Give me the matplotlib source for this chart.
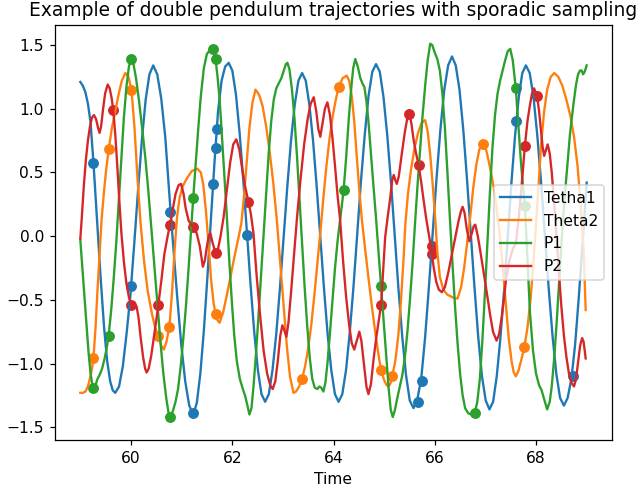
import numpy as np
import matplotlib
matplotlib.use("Agg")
from matplotlib import pyplot as plt

# traced trajectories, (time, value)
tetha1 = [(59.00, 1.21), (59.05, 1.18), (59.10, 1.13), (59.15, 1.04), (59.20, 0.90), (59.26, 0.575),
          (59.33, 0.13), (59.40, -0.32), (59.47, -0.72), (59.53, -0.98), (59.59, -1.14), (59.64, -1.21),
          (59.69, -1.23), (59.765, -1.18), (59.84, -1.02), (59.915, -0.76), (59.99, -0.46), (60.065, -0.06),
          (60.14, 0.36), (60.215, 0.75), (60.29, 1.07), (60.365, 1.27), (60.44, 1.34), (60.519, 1.27),
          (60.598, 1.08), (60.677, 0.78), (60.756, 0.34), (60.835, -0.08), (60.914, -0.48), (60.993, -0.85),
          (61.072, -1.14), (61.151, -1.33), (61.23, -1.40), (61.30, -1.31), (61.37, -1.08), (61.44, -0.74),
          (61.51, -0.32), (61.58, 0.14), (61.65, 0.58), (61.72, 0.98), (61.79, 1.22), (61.86, 1.33),
          (61.93, 1.36), (62.002, 1.30), (62.074, 1.11), (62.146, 0.81), (62.218, 0.44), (62.29, 0.03),
          (62.362, -0.38), (62.434, -0.75), (62.506, -1.05), (62.578, -1.24), (62.65, -1.30), (62.723, -1.24),
          (62.796, -1.05), (62.869, -0.77), (62.942, -0.41), (63.015, -0.01), (63.088, 0.39), (63.161, 0.75),
          (63.234, 1.03), (63.307, 1.22), (63.38, 1.28), (63.452, 1.22), (63.524, 1.03), (63.596, 0.75),
          (63.668, 0.39), (63.74, -0.01), (63.812, -0.41), (63.884, -0.77), (63.956, -1.05), (64.028, -1.24),
          (64.10, -1.30), (64.174, -1.24), (64.248, -1.05), (64.322, -0.75), (64.396, -0.39), (64.47, 0.025),
          (64.544, 0.44), (64.618, 0.80), (64.692, 1.10), (64.766, 1.29), (64.84, 1.35), (64.914, 1.29),
          (64.988, 1.09), (65.062, 0.79), (65.136, 0.42), (65.21, 0.0), (65.284, -0.42), (65.358, -0.79),
          (65.432, -1.09), (65.506, -1.29), (65.58, -1.35), (65.656, -1.28), (65.732, -1.12), (65.808, -0.80),
          (65.884, -0.40), (65.96, 0.03), (66.036, 0.46), (66.112, 0.84), (66.188, 1.15), (66.264, 1.34),
          (66.34, 1.41), (66.414, 1.34), (66.488, 1.15), (66.562, 0.84), (66.636, 0.45), (66.71, 0.025),
          (66.784, -0.40), (66.858, -0.79), (66.932, -1.10), (67.006, -1.29), (67.08, -1.36), (67.152, -1.30),
          (67.224, -1.10), (67.296, -0.80), (67.368, -0.43), (67.44, -0.01), (67.512, 0.41), (67.584, 0.78),
          (67.656, 1.08), (67.728, 1.28), (67.80, 1.34), (67.875, 1.28), (67.95, 1.09), (68.025, 0.79),
          (68.10, 0.42), (68.175, 0.005), (68.25, -0.41), (68.325, -0.78), (68.40, -1.08), (68.475, -1.27),
          (68.55, -1.33), (68.624, -1.27), (68.698, -1.12), (68.772, -0.85), (68.846, -0.47), (68.92, -0.05),
          (69.00, 0.42)]

theta2 = [(59.00, -1.23), (59.05, -1.23), (59.10, -1.22), (59.15, -1.18), (59.20, -1.10), (59.23, -1.04),
          (59.26, -0.955), (59.30, -0.72), (59.34, -0.42), (59.38, -0.14), (59.42, 0.13), (59.47, 0.36),
          (59.51, 0.52), (59.56, 0.68), (59.62, 0.84), (59.69, 0.98), (59.76, 1.12), (59.82, 1.22),
          (59.89, 1.28), (59.95, 1.25), (60.01, 1.15), (60.07, 0.85), (60.13, 0.45), (60.19, 0.10),
          (60.26, -0.20), (60.33, -0.43), (60.42, -0.62), (60.48, -0.72), (60.54, -0.78), (60.60, -0.86),
          (60.65, -0.89), (60.70, -0.83), (60.76, -0.71), (60.81, -0.45), (60.86, -0.12), (60.91, 0.15),
          (60.96, 0.30), (61.02, 0.39), (61.10, 0.45), (61.20, 0.51), (61.31, 0.53), (61.38, 0.50),
          (61.43, 0.40), (61.48, 0.20), (61.53, -0.05), (61.58, -0.33), (61.63, -0.52), (61.67, -0.61),
          (61.71, -0.66), (61.75, -0.68), (61.82, -0.60), (61.90, -0.45), (61.98, -0.29), (62.06, -0.13),
          (62.13, 0.00), (62.18, 0.10), (62.23, 0.30), (62.28, 0.55), (62.34, 0.85), (62.40, 1.05),
          (62.46, 1.15), (62.53, 1.11), (62.60, 1.02), (62.67, 0.86), (62.74, 0.66), (62.81, 0.42),
          (62.88, 0.13), (62.95, -0.22), (63.02, -0.57), (63.08, -0.87), (63.14, -1.10), (63.21, -1.23),
          (63.26, -1.22), (63.32, -1.18), (63.38, -1.12), (63.44, -1.02), (63.50, -0.88), (63.56, -0.70),
          (63.62, -0.47), (63.68, -0.22), (63.74, 0.03), (63.80, 0.30), (63.86, 0.55), (63.92, 0.76),
          (63.98, 0.93), (64.04, 1.06), (64.10, 1.17), (64.18, 1.24), (64.26, 1.26), (64.31, 1.22),
          (64.36, 1.10), (64.41, 0.90), (64.46, 0.62), (64.51, 0.36), (64.56, 0.13), (64.63, -0.12),
          (64.70, -0.36), (64.77, -0.59), (64.84, -0.80), (64.90, -0.96), (64.94, -1.05), (65.00, -1.13),
          (65.05, -1.17), (65.09, -1.18), (65.13, -1.15), (65.16, -1.10), (65.22, -0.98), (65.28, -0.78),
          (65.33, -0.52), (65.38, -0.20), (65.42, 0.10), (65.47, 0.33), (65.53, 0.52), (65.60, 0.69),
          (65.67, 0.81), (65.74, 0.89), (65.81, 0.91), (65.86, 0.82), (65.91, 0.64), (65.96, 0.40),
          (66.01, 0.13), (66.05, -0.12), (66.10, -0.32), (66.17, -0.42), (66.25, -0.46), (66.35, -0.48),
          (66.45, -0.49), (66.52, -0.40), (66.58, -0.25), (66.64, -0.05), (66.70, 0.15), (66.76, 0.38),
          (66.82, 0.56), (66.88, 0.68), (66.95, 0.72), (67.02, 0.67), (67.09, 0.54), (67.16, 0.39),
          (67.22, 0.22), (67.28, 0.02), (67.34, -0.23), (67.40, -0.52), (67.46, -0.80), (67.52, -0.99),
          (67.56, -1.07), (67.60, -1.10), (67.65, -1.06), (67.71, -0.97), (67.77, -0.87), (67.83, -0.72),
          (67.89, -0.50), (67.95, -0.20), (68.00, 0.10), (68.05, 0.40), (68.10, 0.72), (68.16, 0.98),
          (68.22, 1.15), (68.29, 1.25), (68.36, 1.28), (68.44, 1.25), (68.52, 1.18), (68.60, 1.07),
          (68.68, 0.94), (68.75, 0.78), (68.82, 0.55), (68.88, 0.25), (68.94, -0.10), (68.98, -0.58)]

p1 = [(59.00, -0.03), (59.04, -0.25), (59.08, -0.47), (59.12, -0.70), (59.16, -0.90), (59.20, -1.07),
      (59.23, -1.15), (59.26, -1.19), (59.30, -1.17), (59.34, -1.12), (59.38, -1.09), (59.43, -1.04),
      (59.48, -0.96), (59.52, -0.88), (59.56, -0.78), (59.61, -0.58), (59.66, -0.33), (59.71, -0.05),
      (59.76, 0.28), (59.81, 0.62), (59.86, 0.93), (59.91, 1.17), (59.96, 1.33), (60.00, 1.39),
      (60.05, 1.35), (60.10, 1.24), (60.16, 1.06), (60.22, 0.85), (60.28, 0.63), (60.34, 0.37),
      (60.40, 0.08), (60.46, -0.22), (60.52, -0.52), (60.58, -0.82), (60.64, -1.08), (60.70, -1.28),
      (60.74, -1.38), (60.78, -1.42), (60.83, -1.37), (60.88, -1.30), (60.93, -1.20), (60.98, -1.03),
      (61.03, -0.82), (61.08, -0.58), (61.13, -0.30), (61.18, 0.00), (61.23, 0.30), (61.28, 0.58),
      (61.33, 0.85), (61.38, 1.10), (61.44, 1.32), (61.50, 1.43), (61.56, 1.46), (61.62, 1.47),
      (61.67, 1.39), (61.71, 1.25), (61.75, 1.08), (61.79, 0.83), (61.84, 0.50), (61.89, 0.18),
      (61.94, -0.18), (61.99, -0.50), (62.04, -0.78), (62.09, -0.98), (62.15, -1.12), (62.21, -1.20),
      (62.26, -1.26), (62.30, -1.33), (62.34, -1.40), (62.38, -1.35), (62.42, -1.18), (62.47, -0.92),
      (62.52, -0.62), (62.57, -0.30), (62.62, 0.02), (62.67, 0.35), (62.72, 0.65), (62.77, 0.90),
      (62.82, 1.07), (62.87, 1.16), (62.92, 1.20), (62.97, 1.24), (63.02, 1.30), (63.06, 1.35),
      (63.09, 1.36), (63.13, 1.31), (63.18, 1.15), (63.23, 0.92), (63.28, 0.62), (63.33, 0.28),
      (63.38, -0.07), (63.43, -0.40), (63.48, -0.70), (63.53, -0.95), (63.58, -1.12), (63.63, -1.19),
      (63.68, -1.20), (63.72, -1.18), (63.76, -1.19), (63.80, -1.22), (63.84, -1.15), (63.88, -1.00),
      (63.93, -0.76), (63.98, -0.50), (64.03, -0.25), (64.08, -0.04), (64.14, 0.16), (64.20, 0.36),
      (64.25, 0.62), (64.30, 0.91), (64.35, 1.16), (64.39, 1.32), (64.43, 1.39), (64.48, 1.33),
      (64.53, 1.24), (64.57, 1.20), (64.61, 1.17), (64.65, 1.06), (64.69, 0.90), (64.74, 0.64),
      (64.79, 0.39), (64.84, 0.14), (64.89, -0.13), (64.94, -0.39), (64.99, -0.68), (65.04, -0.95),
      (65.09, -1.20), (65.13, -1.36), (65.17, -1.42), (65.21, -1.37), (65.26, -1.27), (65.31, -1.18),
      (65.36, -1.09), (65.41, -0.95), (65.46, -0.75), (65.51, -0.50), (65.56, -0.22), (65.61, 0.10),
      (65.66, 0.40), (65.71, 0.68), (65.76, 0.95), (65.81, 1.18), (65.86, 1.38), (65.91, 1.51),
      (65.95, 1.50), (66.00, 1.44), (66.05, 1.39), (66.10, 1.30), (66.15, 1.12), (66.20, 0.85),
      (66.25, 0.50), (66.30, 0.13), (66.35, -0.22), (66.40, -0.55), (66.45, -0.84), (66.50, -1.08),
      (66.55, -1.25), (66.60, -1.35), (66.66, -1.39), (66.72, -1.40), (66.79, -1.39), (66.84, -1.30),
      (66.89, -1.12), (66.94, -0.82), (66.99, -0.45), (67.04, -0.05), (67.09, 0.35), (67.14, 0.70),
      (67.19, 0.95), (67.24, 1.12), (67.29, 1.22), (67.34, 1.30), (67.39, 1.38), (67.44, 1.45),
      (67.49, 1.47), (67.54, 1.38), (67.60, 1.16), (67.65, 0.88), (67.70, 0.59), (67.74, 0.40),
      (67.78, 0.24), (67.83, -0.18), (67.88, -0.60), (67.94, -0.90), (68.00, -1.08), (68.06, -1.17),
      (68.11, -1.21), (68.16, -1.28), (68.22, -1.36), (68.27, -1.30), (68.31, -1.18), (68.36, -0.95),
      (68.41, -0.66), (68.46, -0.34), (68.51, -0.01), (68.56, 0.28), (68.61, 0.52), (68.67, 0.80),
      (68.74, 1.04), (68.79, 1.19), (68.83, 1.27), (68.87, 1.30), (68.90, 1.30), (68.93, 1.27),
      (68.96, 1.29), (69.00, 1.34)]

p2 = [(59.00, -0.02), (59.03, 0.15), (59.07, 0.40), (59.11, 0.60), (59.15, 0.75), (59.19, 0.86),
      (59.23, 0.93), (59.27, 0.95), (59.31, 0.92), (59.35, 0.85), (59.38, 0.81), (59.41, 0.86),
      (59.45, 1.00), (59.49, 1.12), (59.54, 1.19), (59.58, 1.16), (59.62, 1.08), (59.65, 0.99),
      (59.69, 0.80), (59.73, 0.55), (59.77, 0.28), (59.81, 0.03), (59.86, -0.20), (59.91, -0.37),
      (59.96, -0.48), (60.01, -0.54), (60.06, -0.53), (60.11, -0.55), (60.15, -0.64), (60.19, -0.79),
      (60.24, -0.95), (60.28, -1.04), (60.31, -1.07), (60.35, -1.04), (60.40, -0.94), (60.45, -0.80),
      (60.50, -0.66), (60.54, -0.54), (60.60, -0.35), (60.66, -0.14), (60.72, -0.01), (60.77, 0.09),
      (60.83, 0.22), (60.88, 0.33), (60.94, 0.40), (60.99, 0.41), (61.04, 0.33), (61.08, 0.22),
      (61.14, 0.12), (61.23, 0.07), (61.30, 0.02), (61.36, -0.08), (61.42, -0.24), (61.46, -0.19),
      (61.50, -0.08), (61.54, 0.01), (61.57, 0.02), (61.61, -0.05), (61.67, -0.13), (61.72, -0.10),
      (61.77, 0.00), (61.83, 0.15), (61.90, 0.38), (61.96, 0.58), (62.02, 0.72), (62.08, 0.76),
      (62.14, 0.68), (62.20, 0.52), (62.26, 0.38), (62.32, 0.27), (62.37, 0.17), (62.42, 0.02),
      (62.48, -0.30), (62.55, -0.62), (62.62, -0.90), (62.69, -1.08), (62.75, -1.17), (62.80, -1.20),
      (62.85, -1.14), (62.90, -0.98), (62.95, -0.78), (62.99, -0.70), (63.03, -0.74), (63.07, -0.79),
      (63.11, -0.68), (63.16, -0.45), (63.22, -0.15), (63.28, 0.15), (63.35, 0.45), (63.42, 0.72),
      (63.49, 0.92), (63.55, 1.04), (63.61, 1.09), (63.66, 0.98), (63.70, 0.84), (63.74, 0.78),
      (63.78, 0.88), (63.83, 1.00), (63.88, 1.05), (63.93, 0.95), (63.98, 0.77), (64.03, 0.55),
      (64.08, 0.32), (64.13, 0.13), (64.19, -0.20), (64.25, -0.48), (64.31, -0.70), (64.36, -0.84),
      (64.41, -0.89), (64.46, -0.82), (64.51, -0.75), (64.55, -0.82), (64.60, -1.00), (64.65, -1.18),
      (64.69, -1.24), (64.74, -1.16), (64.79, -0.97), (64.85, -0.78), (64.94, -0.54), (64.98, -0.28),
      (65.02, -0.01), (65.07, 0.15), (65.12, 0.30), (65.16, 0.44), (65.19, 0.48), (65.22, 0.44),
      (65.25, 0.41), (65.29, 0.47), (65.35, 0.65), (65.41, 0.82), (65.46, 0.93), (65.50, 0.96),
      (65.54, 0.88), (65.58, 0.76), (65.63, 0.65), (65.68, 0.56), (65.73, 0.43), (65.78, 0.28),
      (65.83, 0.14), (65.88, 0.02), (65.93, -0.10), (65.98, -0.25), (66.03, -0.36), (66.08, -0.42),
      (66.14, -0.44), (66.20, -0.40), (66.27, -0.28), (66.34, -0.14), (66.41, 0.00), (66.47, 0.12),
      (66.52, 0.20), (66.55, 0.23), (66.59, 0.18), (66.63, 0.06), (66.68, -0.04), (66.73, 0.02),
      (66.77, 0.08), (66.80, 0.09), (66.85, 0.00), (66.90, -0.12), (66.96, -0.27), (67.03, -0.45),
      (67.09, -0.61), (67.15, -0.75), (67.22, -0.82), (67.27, -0.77), (67.32, -0.64), (67.37, -0.48),
      (67.41, -0.33), (67.47, -0.20), (67.54, -0.10), (67.60, -0.06), (67.66, 0.15), (67.72, 0.42),
      (67.78, 0.71), (67.83, 0.90), (67.88, 1.03), (67.92, 1.12), (67.96, 1.16), (68.02, 1.10),
      (68.06, 0.98), (68.10, 0.82), (68.13, 0.70), (68.16, 0.63), (68.20, 0.68), (68.23, 0.72),
      (68.27, 0.65), (68.31, 0.50), (68.35, 0.30), (68.40, 0.02), (68.45, -0.28), (68.50, -0.55),
      (68.55, -0.78), (68.60, -0.95), (68.65, -1.08), (68.70, -1.15), (68.75, -1.18), (68.79, -1.12),
      (68.83, -0.99), (68.87, -0.86), (68.91, -0.80), (68.94, -0.83), (68.98, -0.96)]

# sporadic samples
samples_tetha1 = [(59.26, 0.575), (60.01, -0.39), (60.78, 0.19), (61.23, -1.39), (61.62, 0.41), (61.67, 0.69),
                  (61.69, 0.84), (62.29, 0.01), (65.66, -1.30), (65.74, -1.14), (67.60, 0.90), (68.72, -1.10)]
samples_theta2 = [(59.26, -0.955), (59.56, 0.68), (60.01, 1.15), (60.54, -0.78), (60.76, -0.71), (61.67, -0.61),
                  (63.38, -1.12), (64.10, 1.17), (64.94, -1.05), (65.16, -1.10), (66.95, 0.72), (67.77, -0.87)]
samples_p1 = [(59.26, -1.19), (59.56, -0.78), (60.00, 1.39), (60.78, -1.42), (61.23, 0.30), (61.62, 1.47),
              (61.67, 1.39), (64.20, 0.36), (64.94, -0.39), (66.79, -1.39), (67.60, 1.16), (67.78, 0.24)]
samples_p2 = [(59.65, 0.99), (60.01, -0.54), (60.54, -0.54), (60.77, 0.09), (61.23, 0.07), (61.67, -0.13),
              (62.32, 0.27), (64.94, -0.54), (65.50, 0.96), (65.68, 0.56), (65.94, -0.08), (65.94, -0.14),
              (67.78, 0.71), (68.02, 1.10)]

names = ["Tetha1", "Theta2", "P1", "P2"]

dpi = 112
fig = plt.figure(figsize=(637 / dpi, 493 / dpi), dpi=dpi)
ax = fig.add_axes([55 / 637, 53 / 493, 557 / 637, 415 / 493])

for name, series in zip(names, [tetha1, theta2, p1, p2]):
    t, y = zip(*series)
    ax.plot(t, y, label=name)

for i, samples in enumerate([samples_tetha1, samples_theta2, samples_p1, samples_p2]):
    t, y = zip(*samples)
    ax.scatter(t, y, c="C%d" % i)

ax.set_xlim(58.5, 69.5)
ax.set_ylim(-1.60, 1.657)
ax.set_title("Example of double pendulum trajectories with sporadic sampling")
ax.set_xlabel("Time")
ax.legend(loc="center right")

fig.savefig("out.png", dpi=dpi)
